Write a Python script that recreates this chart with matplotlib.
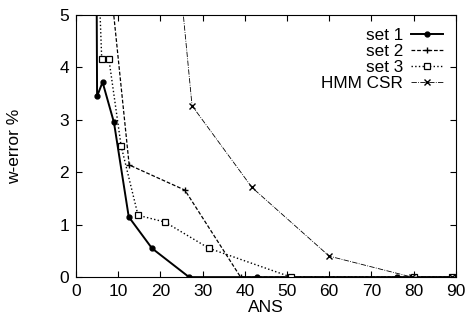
import numpy as np
import matplotlib
matplotlib.use("Agg")
import matplotlib.pyplot as plt

plt.rcParams['font.family'] = ['Liberation Sans', 'DejaVu Sans']

# values (points above 5 are clipped by the axes)
set1_x = [4.7, 5.0, 6.3, 9.0, 12.5, 18.0, 26.8, 43.0, 76.0, 89.0]
set1_y = [9.0, 3.45, 3.72, 2.95, 1.15, 0.55, 0.0, 0.0, 0.0, 0.0]

set2_x = [6.4, 12.6, 25.8, 39.0, 80.0, 89.0]
set2_y = [7.0, 2.14, 1.66, 0.0, 0.0, 0.0]

set3_x = [4.8, 6.1, 7.8, 10.7, 14.7, 21.1, 31.5, 51.0, 80.0, 89.0]
set3_y = [7.0, 4.16, 4.16, 2.5, 1.18, 1.05, 0.55, 0.0, 0.0, 0.0]

hmm_x = [24.0, 27.5, 41.7, 60.0, 79.6, 89.0]
hmm_y = [6.2, 3.27, 1.71, 0.40, 0.0, 0.0]

fig = plt.figure(figsize=(4.69, 3.2), dpi=100)
ax = fig.add_axes([0.162, 0.134, 0.810, 0.819])

ax.plot(set1_x, set1_y, '-', color='black', lw=1.4, marker='o', ms=3.5, label='set 1')
ax.plot(set2_x, set2_y, '--', color='black', lw=0.9, dashes=(3, 1.5), marker='+', ms=5, mew=1, label='set 2')
ax.plot(set3_x, set3_y, ':', color='black', lw=1.0, marker='s', ms=4, mfc='white', mew=0.9, label='set 3')
ax.plot(hmm_x, hmm_y, '-.', color='black', lw=0.6, marker='x', ms=4, mew=1, label='HMM CSR')

ax.set_xlim(0, 90)
ax.set_ylim(0, 5)
ax.set_xticks(np.arange(0, 91, 10))
ax.set_yticks(np.arange(0, 6, 1))
ax.tick_params(direction='in', top=True, right=True, labelsize=12.5, length=4, pad=5)
ax.set_xlabel('ANS', fontsize=12.5, labelpad=1)
ax.set_ylabel('w-error %', fontsize=12.5)
ax.yaxis.set_label_coords(-0.143, 0.5)

ax.legend(loc='upper right', frameon=False, markerfirst=False, fontsize=12.3,
          handlelength=1.9, handletextpad=0.45, labelspacing=0.06,
          borderpad=0.25, borderaxespad=0.5)

fig.savefig('out.png', dpi=100)
